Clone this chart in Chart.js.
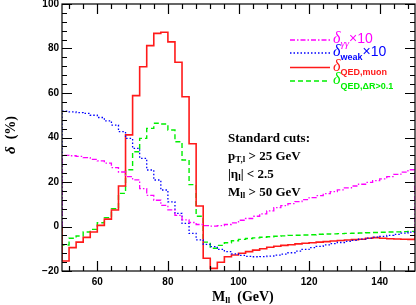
<!DOCTYPE html>
<html><head><meta charset="utf-8">
<script src="https://cdn.jsdelivr.net/npm/chart.js@4.4.1/dist/chart.umd.min.js"></script>
<style>html,body{margin:0;padding:0;background:#fff}</style>
</head><body>
<canvas id="c" width="416" height="305" style="width:416px;height:305px;display:block"></canvas>
<script>
const binEdges = [50,52,54,56,58,60,62,64,66,68,70,72,74,76,78,80,82,84,86,88,90,92,94,96,98,100,102,104,106,108,110,112,114,116,118,120,122,124,126,128,130,132,134,136,138,140,142,144,146,148,150];
const deltaGammaGammaX10 = [32,31.8,31.5,31,30.2,29.5,28.5,26.5,24.5,22.4,21,17,14,11.8,9.5,7.5,5,3,1.8,0.9,0.4,0.2,0.4,0.9,1.6,2.8,3.6,4.6,5.7,7,8.5,9.4,10.3,11.2,12.1,13,13.9,14.8,15.7,16.5,17.4,18.2,19,19.8,20.6,21.4,22.4,23.4,24.4,25.5];
const deltaWeakX10 = [51.8,51.5,51.2,50.8,50,49,47.5,45.6,42.6,39.6,35.1,30.6,25.4,20.9,16.4,11.1,5.9,1.4,-3.1,-6,-8,-9,-10.3,-11.3,-12.3,-13,-13.4,-13.6,-13.5,-13.3,-12.9,-12.4,-11.8,-11.1,-10.3,-9.5,-8.9,-8.3,-7.7,-7.2,-6.7,-6.2,-5.7,-5.2,-4.8,-4.4,-4.0,-3.5,-3.0,-2.5];
const deltaQEDmuon = [-15.5,-9.5,-7,-4.9,-2.5,0.5,3.3,7.4,18.2,41.2,58.8,71.8,81.3,86.8,87.3,83,73.8,58.3,37.2,9.2,-14.3,-18.8,-16.1,-13.6,-12.8,-12,-11.3,-10.6,-10,-9.3,-8.9,-8.5,-8.2,-7.8,-7.5,-7.3,-7.0,-6.8,-6.5,-6.3,-6.1,-5.9,-5.7,-5.3,-5.0,-5.3,-5.5,-5.6,-5.7,-5.8];
const deltaQEDdR = [-8.3,-5.3,-4.3,-2.5,-1.3,1.7,4.0,8.0,14.9,25.5,33.6,39.6,44.1,46.4,46.1,43.4,38.1,29.9,18.8,4.6,-7,-9.8,-8.5,-7.3,-6.4,-5.8,-5.4,-5.1,-4.8,-4.6,-4.4,-4.2,-4.0,-3.9,-3.8,-3.7,-3.5,-3.4,-3.3,-3.2,-3.1,-3.0,-2.9,-2.8,-2.7,-2.6,-2.5,-2.4,-2.3,-2.2];
const xTicks = [60,80,100,120,140];
const yTicks = [-20,0,20,40,60,80,100];

function hist(vals){
  const pts=[{x:binEdges[0],y:0}];
  for(let i=0;i<vals.length;i++) pts.push({x:binEdges[i],y:vals[i]});
  pts.push({x:binEdges[binEdges.length-1],y:vals[vals.length-1]});
  pts.push({x:binEdges[binEdges.length-1],y:0});
  return pts;
}

const series = [
  {data:deltaGammaGammaX10, color:'#ff00ff', dash:[5,2,1.5,2], width:1.3,
   label:[{t:'δ',f:'italic 16px "Liberation Serif"'},{t:'γγ',f:'italic 11px "Liberation Serif"',dy:4},{t:'×10',f:'14px "Liberation Sans"'}]},
  {data:deltaWeakX10, color:'#0000ff', dash:[1.5,2], width:1.3,
   label:[{t:'δ',f:'italic 16px "Liberation Serif"'},{t:'weak',f:'bold 9px "Liberation Sans"',dy:4},{t:'×10',f:'14px "Liberation Sans"'}]},
  {data:deltaQEDmuon, color:'#ff1a1a', dash:[], width:1.6,
   label:[{t:'δ',f:'italic 16px "Liberation Serif"'},{t:'QED,muon',f:'bold 9px "Liberation Sans"',dy:4}]},
  {data:deltaQEDdR, color:'#00ee00', dash:[5,3], width:1.4,
   label:[{t:'δ',f:'italic 16px "Liberation Serif"'},{t:'QED,ΔR>0.1',f:'bold 9px "Liberation Sans"',dy:5}]}
];

function drawRich(ctx,x,y,parts,color){
  ctx.fillStyle=color; ctx.textBaseline='alphabetic'; ctx.textAlign='left';
  for(const p of parts){ ctx.font=p.f; ctx.fillText(p.t,x,y+(p.dy||0)); x+=ctx.measureText(p.t).width; }
}

const decor = {
  id:'decor',
  afterDatasetsDraw(chart){
    const ctx=chart.ctx, a=chart.chartArea, xs=chart.scales.x, ys=chart.scales.y;
    ctx.save();
    ctx.strokeStyle='#000'; ctx.lineWidth=1.2;
    ctx.strokeRect(a.left,a.top,a.right-a.left,a.bottom-a.top);
    ctx.beginPath();
    for(let v=Math.ceil(xs.min/4)*4; v<=xs.max; v+=4){
      const p=Math.round(xs.getPixelForValue(v))+0.5, L=(v%20===0)?10:5;
      ctx.moveTo(p,a.bottom); ctx.lineTo(p,a.bottom-L);
      ctx.moveTo(p,a.top); ctx.lineTo(p,a.top+L);
    }
    for(let v=Math.ceil(ys.min/4)*4; v<=ys.max; v+=4){
      const p=Math.round(ys.getPixelForValue(v))+0.5, L=(v%20===0)?10:5;
      ctx.moveTo(a.left,p); ctx.lineTo(a.left+L,p);
      ctx.moveTo(a.right,p); ctx.lineTo(a.right-L,p);
    }
    ctx.stroke();
    ctx.restore();
  },
  afterDraw(chart){
    const ctx=chart.ctx;
    ctx.save();
    const rows=[40,53,67.5,81];
    series.forEach((s,i)=>{
      ctx.strokeStyle=s.color; ctx.lineWidth=s.width; ctx.setLineDash(s.dash);
      ctx.beginPath(); ctx.moveTo(290,rows[i]); ctx.lineTo(330,rows[i]); ctx.stroke();
      ctx.setLineDash([]);
      drawRich(ctx,333,rows[i]+3,s.label,s.color);
    });
    const F='bold 13px "Liberation Serif"', S='bold 9px "Liberation Serif"';
    drawRich(ctx,228,142,[{t:'Standard cuts:',f:F}],'#000');
    drawRich(ctx,228,160,[{t:'p',f:F},{t:'T,l',f:S,dy:2},{t:' > 25 GeV',f:F}],'#000');
    drawRich(ctx,228,178,[{t:'|η',f:F},{t:'l',f:S,dy:2},{t:'| < 2.5',f:F}],'#000');
    drawRich(ctx,228,196,[{t:'M',f:F},{t:'ll',f:S,dy:2},{t:' > 50 GeV',f:F}],'#000');
    drawRich(ctx,212,301,[{t:'M',f:'bold 14px "Liberation Serif"'},{t:'ll',f:'bold 9px "Liberation Serif"',dy:2},{t:'  (GeV)',f:'bold 14px "Liberation Serif"'}],'#000');
    ctx.translate(15,154); ctx.rotate(-Math.PI/2);
    drawRich(ctx,0,0,[{t:'δ',f:'italic bold 15px "Liberation Serif"'},{t:'  (%)',f:'bold 14px "Liberation Serif"'}],'#000');
    ctx.restore();
  }
};

new Chart(document.getElementById('c'),{
  type:'line',
  data:{datasets:series.map(s=>({data:hist(s.data),borderColor:s.color,borderWidth:s.width,borderDash:s.dash,stepped:'before',pointRadius:0,fill:false,tension:0}))},
  options:{
    responsive:false, animation:false, devicePixelRatio:1,
    layout:{padding:{top:4,right:1,left:0,bottom:0},autoPadding:false},
    plugins:{legend:{display:false},tooltip:{enabled:false}},
    scales:{
      x:{type:'linear',min:50,max:150,
        afterBuildTicks:s=>{s.ticks=xTicks.map(v=>({value:v}));},
        afterFit:s=>{s.height=34;s.paddingLeft=0;s.paddingRight=0;},
        grid:{display:false,drawTicks:false},border:{display:false},
        ticks:{padding:5,color:'#000',font:{family:'Liberation Sans',weight:'bold',size:10},maxRotation:0}},
      y:{type:'linear',min:-20,max:100,
        afterBuildTicks:s=>{s.ticks=yTicks.map(v=>({value:v}));},
        afterFit:s=>{s.width=62;s.paddingTop=0;s.paddingBottom=0;},
        grid:{display:false,drawTicks:false},border:{display:false},
        ticks:{padding:3,color:'#000',font:{family:'Liberation Sans',weight:'bold',size:10},
          callback:v=>String(v).replace('-','−')}}
    }
  },
  plugins:[decor]
});
</script>
</body></html>
